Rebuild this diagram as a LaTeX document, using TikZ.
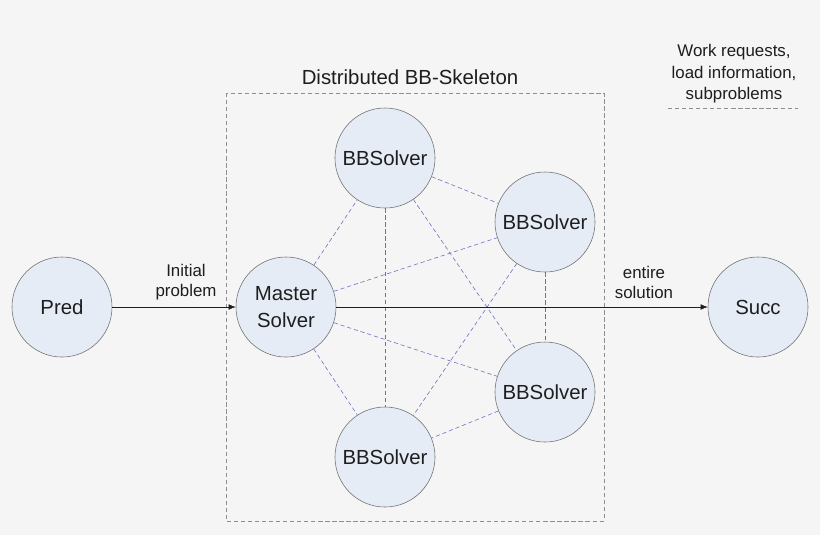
\documentclass[tikz,border=0pt]{standalone}
\usepackage{fontspec}
\setmainfont{Liberation Sans}
\definecolor{bbBack}{HTML}{F5F5F5}
\definecolor{bbFill}{HTML}{E6ECF6}
\definecolor{bbLine}{HTML}{6E6E6E}
\definecolor{bbLink}{HTML}{6A6AC2}
\definecolor{bbBox}{HTML}{8E8E8E}
\definecolor{bbText}{HTML}{1E1E1E}
\usetikzlibrary{arrows.meta}

\begin{document}
\begin{tikzpicture}[
  x=0.025cm, y=-0.025cm,
  proc/.style={circle, draw=bbLine, fill=bbFill, text=bbText, minimum size=2.5cm,
    inner sep=0pt, align=center, font=\fontsize{14.5}{19}\selectfont},
  lbl/.style={font=\fontsize{12}{14.2}\selectfont, text=bbText, align=center},
  link/.style={draw=bbLink, densely dashed, thin},
  arr/.style={-{Latex[length=5pt,width=4pt]}, draw=bbText, thin}
]
  % Background and frame of the skeleton
  \fill[bbBack] (0,0) rectangle (820,535);
  \draw[bbBox, densely dashed, thin] (226,93) rectangle (604,521);
  \node[font=\fontsize{14.5}{17}\selectfont, text=bbText] (title) at (410,77) {Distributed BB-Skeleton};
  % Legend
  \node[lbl, font=\fontsize{12}{15.2}\selectfont] (legend) at (734,74) {Work requests,\\load information,\\subproblems};
  \coordinate (legA) at (668,108);
  \coordinate (legB) at (798,108);
  \draw[bbBox, densely dashed, thin] (legA) -- (legB);
  % Outer nodes
  \node[proc] (pred) at (62,307)  {Pred};
  \node[proc] (succ) at (758,307) {Succ};
  % Solvers
  \node[proc] (master) at (286,307) {Master\\Solver};
  \node[proc] (bbTop)  at (385,158) {BBSolver};
  \node[proc] (bbUR)   at (545,222) {BBSolver};
  \node[proc] (bbLR)   at (545,392) {BBSolver};
  \node[proc] (bbBot)  at (385,457) {BBSolver};
  % Links between all solvers
  \foreach \a/\b in {master/bbTop, master/bbUR, master/bbLR, master/bbBot,
                     bbTop/bbUR, bbTop/bbLR, bbTop/bbBot,
                     bbUR/bbLR, bbUR/bbBot, bbLR/bbBot}
    \draw[link] (\a) -- (\b);
  % Problem in, solution out
  \draw[arr] (pred) -- (master);
  \draw[arr] (master) -- (succ);
  \node[lbl] (initLbl) at (186,282) {Initial\\problem};
  \node[lbl] (solLbl)  at (644,282) {entire\\solution};
\end{tikzpicture}
\end{document}
